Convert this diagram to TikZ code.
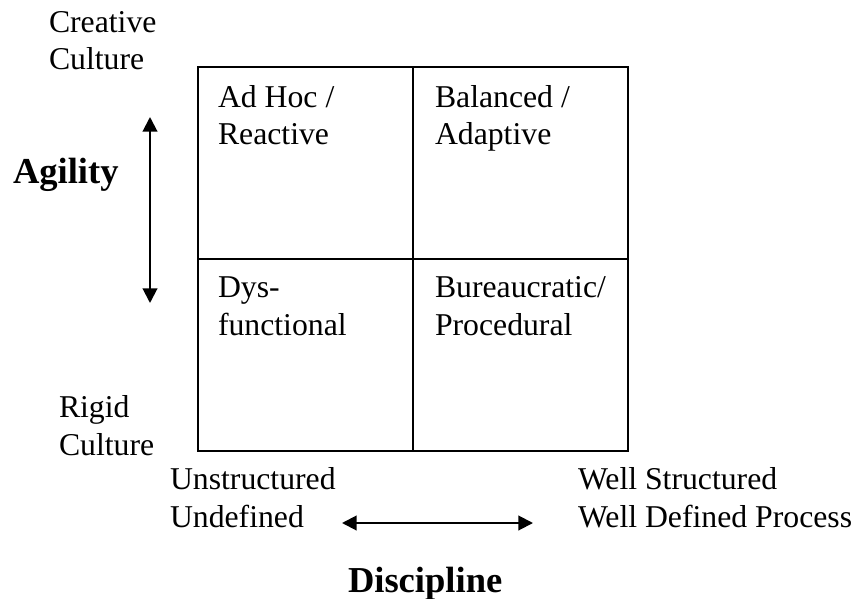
\documentclass[tikz,border=0pt]{standalone}
\usepackage{fontspec}
\setmainfont{Liberation Serif}
\usetikzlibrary{arrows.meta}
\begin{document}
\begin{tikzpicture}[x=0.75pt, y=-0.75pt, line width=1.5pt,
  every node/.style={inner sep=0pt, outer sep=0pt, anchor=base west, align=left, font=\fontsize{23.8}{28.1}\selectfont},
  axis/.style={font=\fontsize{27.4}{32}\selectfont\bfseries},
  cell/.style={draw, anchor=north west, minimum width=161.25pt, minimum height=144pt},
  twoway/.style={{Triangle[length=11pt,width=11pt]}-{Triangle[length=11pt,width=11pt]}}]
	\useasboundingbox (0,0) rectangle (856,599);
	\node[cell] (adhoc) at (198,67) {};
	\node[cell, anchor=north west] (balanced) at (adhoc.north east) {};
	\node[cell, anchor=north west] (dysfunc) at (adhoc.south west) {};
	\node[cell, anchor=north west] (bureau) at (adhoc.south east) {};
	\node (adhoctext) at (218,145) {Ad Hoc /\\Reactive};
	\node (balancedtext) at (435,145) {Balanced /\\Adaptive};
	\node (dysfunctext) at (218,335) {Dys-\\functional};
	\node (bureautext) at (435,335) {Bureaucratic/\\Procedural};
	\node (creative) at (49,70) {Creative\\Culture};
	\node (rigid) at (59,455) {Rigid\\Culture};
	\node (unstruct) at (170,527) {Unstructured\\Undefined};
	\node (wellstruct) at (578,527) {Well Structured\\Well Defined Process};
	\node[axis] (agility) at (13,184) {Agility};
	\node[axis] (discipline) at (348,592) {Discipline};
	\coordinate (agilitytop) at (150,117);
	\coordinate (agilitybot) at (150,303);
	\coordinate (discleft) at (342,523);
	\coordinate (discright) at (533,523);
	\draw[twoway] (agilitytop) -- (agilitybot);
	\draw[twoway] (discleft) -- (discright);
\end{tikzpicture}
\end{document}
